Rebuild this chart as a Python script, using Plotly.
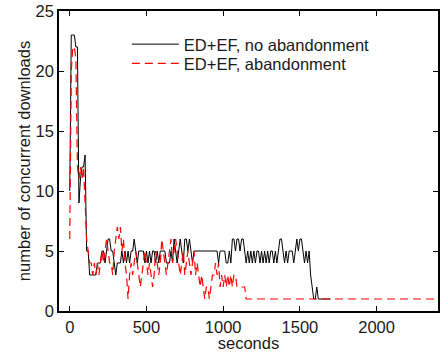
import plotly.graph_objects as go

# Black: ED+EF, no abandonment (10 s sampling)
t_black = list(range(0, 1710, 10))
v_black = [
    10, 23, 23, 23, 22, 22, 9, 11, 12, 12,      # 0-90
    13, 5, 5, 3, 3, 3, 3, 3, 4, 4,              # 100-190
    4, 5, 5, 4, 5, 6, 6, 5, 5, 4,               # 200-290
    3, 4, 4, 4, 5, 4, 5, 4, 5, 4,               # 300-390
    5, 5, 6, 5, 4, 5, 5, 5, 5, 4,               # 400-490
    5, 4, 5, 4, 5, 5, 4, 5, 4, 5,               # 500-590
    5, 5, 5, 4, 4, 4, 5, 4, 6, 5,               # 600-690
    4, 5, 6, 5, 4, 6, 6, 5, 6, 5,               # 700-790
    4, 5, 5, 5, 5, 5, 5, 5, 5, 5,               # 800-890
    5, 5, 5, 5, 5, 5, 5, 4, 5, 5,               # 900-990
    5, 5, 4, 4, 5, 4, 6, 6, 5, 6,               # 1000-1090
    6, 5, 6, 6, 5, 4, 5, 4, 5, 4,               # 1100-1190
    5, 4, 5, 5, 4, 5, 4, 5, 4, 5,               # 1200-1290
    4, 5, 5, 4, 5, 4, 5, 6, 6, 5,               # 1300-1390
    4, 5, 4, 5, 5, 5, 4, 5, 6, 5,               # 1400-1490
    6, 6, 5, 4, 5, 4, 5, 3, 2, 1,               # 1500-1590
    1, 2, 1, 1, 1, 1, 1, 1, 1, 1,               # 1600-1690
    1,                                          # 1700
]

# Red: ED+EF, abandonment (10 s sampling, then flat to the end)
t_red = list(range(0, 1170, 10)) + [2400]
v_red = [
    6, 20, 22, 22, 21, 12, 11, 12, 11, 12,      # 0-90
    9, 6, 5, 4, 4, 3, 4, 3, 4, 3,               # 100-190
    4, 5, 4, 5, 6, 5, 4, 4, 3, 5,               # 200-290
    6, 7, 6, 7, 5, 6, 4, 3, 1, 3,               # 300-390
    4, 3, 4, 5, 4, 3, 2, 3, 4, 5,               # 400-490
    4, 3, 4, 3, 2, 3, 5, 4, 3, 4,               # 500-590
    6, 5, 4, 3, 4, 5, 6, 4, 5, 6,               # 600-690
    5, 4, 3, 4, 5, 3, 4, 5, 4, 3,               # 700-790
    4, 5, 3, 4, 3, 2, 3, 2, 1, 2,               # 800-890
    2, 1, 2, 3, 3, 4, 3, 4, 2, 3,               # 900-990
    2, 3, 2, 3, 2, 3, 2, 3, 3, 2,               # 1000-1090
    2, 2, 2, 2, 2, 1, 1,                        # 1100-1160
    1,                                          # 2400
]

x_ticks = [0, 500, 1000, 1500, 2000]
y_ticks = [0, 5, 10, 15, 20, 25]

FONT = "Liberation Sans, Arial, Helvetica, sans-serif"
TXT = "#1a1a1a"
FS = 16.5

fig = go.Figure()
fig.add_trace(go.Scatter(x=t_black, y=v_black, mode="lines",
                         name="ED+EF, no abandonment", legend="legend",
                         line=dict(color="black", width=1)))
fig.add_trace(go.Scatter(x=t_red, y=v_red, mode="lines",
                         name="ED+EF, abandonment", legend="legend2",
                         line=dict(color="#ff0000", width=1.2, dash="8px,5px")))

axis_common = dict(showline=True, linecolor="black", linewidth=1.5, mirror="ticks",
                   ticks="inside", ticklen=5, tickcolor="black", showgrid=False,
                   zeroline=False, automargin=False,
                   tickfont=dict(size=FS, color=TXT, family=FONT))

fig.update_xaxes(range=[-70, 2400], tickvals=x_ticks,
                 title=dict(text="seconds", font=dict(size=FS, color=TXT, family=FONT), standoff=0),
                 **axis_common)
fig.update_yaxes(range=[0, 25], tickvals=y_ticks,
                 title=dict(text="number of concurrent downloads", font=dict(size=FS, color=TXT, family=FONT), standoff=1),
                 **axis_common)

leg_common = dict(xanchor="left", yanchor="top", bgcolor="rgba(0,0,0,0)",
                  borderwidth=0, itemwidth=47,
                  font=dict(size=FS, color=TXT, family=FONT))

fig.update_layout(
    width=448, height=352,
    margin=dict(l=59, r=10, t=11, b=41, autoexpand=False),
    plot_bgcolor="white", paper_bgcolor="white",
    font=dict(family=FONT, size=FS, color=TXT),
    showlegend=True,
    legend=dict(x=0.179, y=0.947, **leg_common),
    legend2=dict(x=0.179, y=0.883, **leg_common),
)

fig.write_html("out.html")
